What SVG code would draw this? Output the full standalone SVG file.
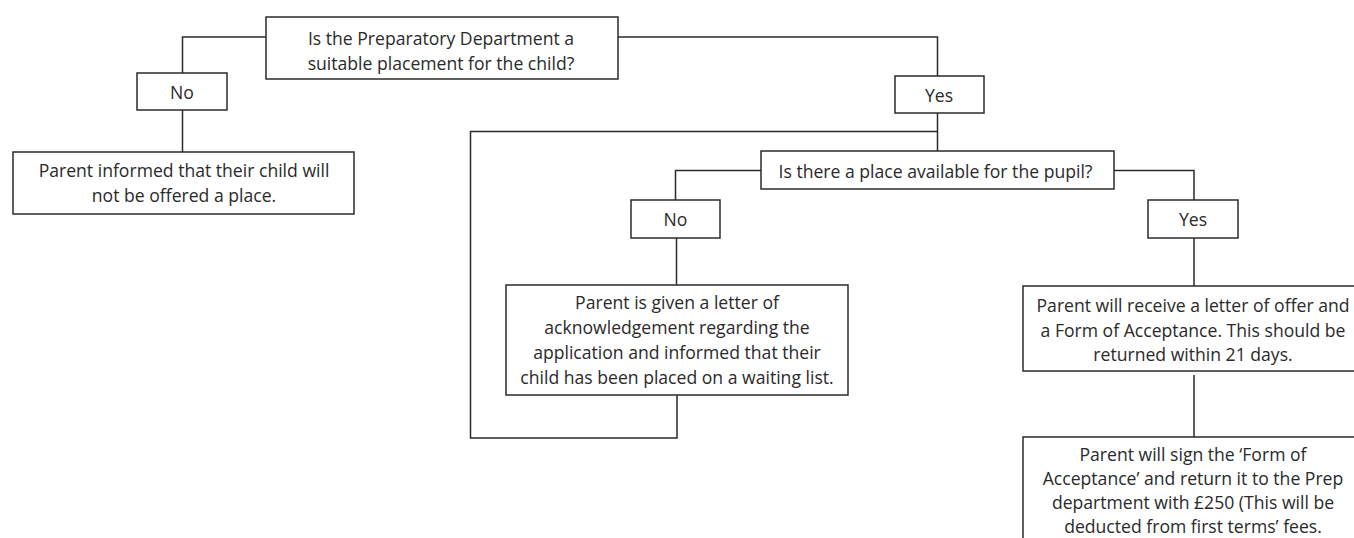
<svg xmlns="http://www.w3.org/2000/svg" width="1354" height="538" viewBox="0 0 1354 538">
<style>
.box{fill:#fff;stroke:#2b2b2b;stroke-width:1.5}
.ln{fill:none;stroke:#2b2b2b;stroke-width:1.5}
text{font-family:"Open Sans",Lato,"Liberation Sans",sans-serif;font-size:17.6px;fill:#2a2a2a;text-anchor:middle;dominant-baseline:central}
</style>
<rect width="1354" height="538" fill="#fff"/>
<g id="connectors">
<polyline class="ln" points="266,37 182.5,37 182.5,73"/>
<line class="ln" x1="182.5" y1="110" x2="182.5" y2="152"/>
<polyline class="ln" points="618,37 937.5,37 937.5,76"/>
<line class="ln" x1="937.5" y1="113" x2="937.5" y2="151"/>
<polyline class="ln" points="937.5,131.5 470.5,131.5 470.5,438 677,438 677,393"/>
<polyline class="ln" points="761,170.5 675.5,170.5 675.5,200"/>
<line class="ln" x1="676.5" y1="238" x2="676.5" y2="285"/>
<polyline class="ln" points="1114,170.5 1194,170.5 1194,200"/>
<line class="ln" x1="1194" y1="238" x2="1194" y2="286"/>
<line class="ln" x1="1194" y1="375" x2="1194" y2="437"/>
</g>
<g id="q1"><rect class="box" x="266" y="17" width="352" height="62"/><text x="441" y="38">Is the Preparatory Department a</text><text x="441" y="63">suitable placement for the child?</text></g>
<g id="no1"><rect class="box" x="137" y="73" width="90" height="37"/><text x="182" y="92">No</text></g>
<g id="yes1"><rect class="box" x="895" y="76" width="89" height="37"/><text x="939" y="95">Yes</text></g>
<g id="notoffered"><rect class="box" x="13" y="152" width="341" height="62"/><text x="184" y="170">Parent informed that their child will</text><text x="184" y="195">not be offered a place.</text></g>
<g id="q2"><rect class="box" x="761" y="151" width="353" height="38"/><text x="935.5" y="171">Is there a place available for the pupil?</text></g>
<g id="no2"><rect class="box" x="631" y="200" width="89" height="38"/><text x="675.5" y="219">No</text></g>
<g id="yes2"><rect class="box" x="1148" y="200" width="90" height="38"/><text x="1193" y="219">Yes</text></g>
<g id="waiting"><rect class="box" x="506" y="285" width="342" height="110"/><text x="677" y="302">Parent is given a letter of</text><text x="677" y="327">acknowledgement regarding the</text><text x="677" y="352">application and informed that their</text><text x="677" y="377">child has been placed on a waiting list.</text></g>
<g id="offer"><rect class="box" x="1023" y="286" width="345" height="85"/><text x="1193" y="305">Parent will receive a letter of offer and</text><text x="1193" y="330">a Form of Acceptance. This should be</text><text x="1193" y="354">returned within 21 days.</text></g>
<g id="sign"><rect class="box" x="1023" y="437" width="345" height="120"/><text x="1193" y="454">Parent will sign the ‘Form of</text><text x="1193" y="478">Acceptance’ and return it to the Prep</text><text x="1193" y="502">department with £250 (This will be</text><text x="1193" y="526">deducted from first terms’ fees.</text></g>
</svg>
